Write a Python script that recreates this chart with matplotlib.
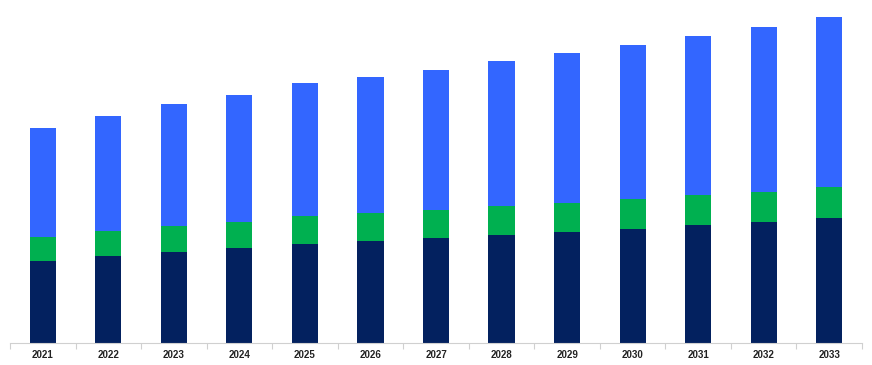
import matplotlib.pyplot as plt
import numpy as np

# --- Data (arbitrary units) ---
years = ["2021", "2022", "2023", "2024", "2025", "2026", "2027",
         "2028", "2029", "2030", "2031", "2032", "2033"]
navy_vals = [82, 87, 91, 95, 99, 102, 105, 108, 111, 114, 118, 121, 125]
green_vals = [24, 25, 26, 26, 28, 28, 28, 29, 29, 30, 30, 30, 31]
blue_vals = [109, 115, 122, 127, 133, 136, 140, 145, 150, 154, 159, 165, 170]

# --- Colours ---
navy = "#03215f"
green = "#00b050"
blue = "#3366ff"

fig = plt.figure(figsize=(8.72, 3.65), dpi=100)
ax = fig.add_axes([10 / 872, 22 / 365, 852 / 872, 333 / 365])

x = np.arange(len(years))
navy_arr = np.array(navy_vals)
green_arr = np.array(green_vals)
blue_arr = np.array(blue_vals)

bar_w = 0.40
ax.bar(x, navy_arr, width=bar_w, color=navy)
ax.bar(x, green_arr, width=bar_w, bottom=navy_arr, color=green)
ax.bar(x, blue_arr, width=bar_w, bottom=navy_arr + green_arr, color=blue)

ax.set_xlim(-0.5, len(years) - 0.5)
ax.set_ylim(0, 333)

# Axis styling: only a light bottom line, ticks between categories
for side in ["top", "right", "left"]:
    ax.spines[side].set_visible(False)
ax.spines["bottom"].set_color("#d0d0d0")
ax.spines["bottom"].set_linewidth(0.8)
ax.set_yticks([])

ax.set_xticks(x)
ax.set_xticklabels(years, fontsize=7, fontweight="bold", color="#222222",
                   family=["Liberation Sans", "DejaVu Sans"])
ax.tick_params(axis="x", which="major", length=0, pad=5)
ax.set_xticks(np.arange(-0.5, len(years)), minor=True)
ax.tick_params(axis="x", which="minor", length=4, color="#d0d0d0", width=0.8)

fig.savefig("out.png", dpi=100)
